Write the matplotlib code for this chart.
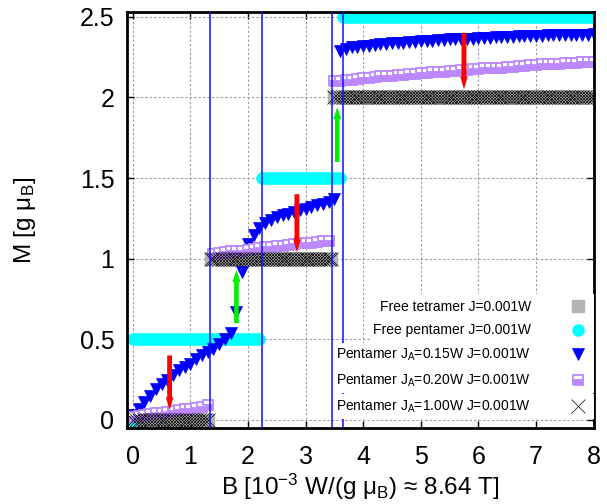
import numpy as np
import matplotlib
matplotlib.use("Agg")
import matplotlib.pyplot as plt
from matplotlib.patches import Rectangle

plt.rcParams["font.family"] = ["Liberation Sans", "DejaVu Sans"]
plt.rcParams["mathtext.fontset"] = "custom"
plt.rcParams["mathtext.rm"] = "Liberation Sans"
plt.rcParams["mathtext.it"] = "Liberation Sans:italic"
plt.rcParams["mathtext.bf"] = "Liberation Sans:bold"

# field grids, B in 10^-3 W/(g muB)
B_fine = np.round(np.arange(0, 8.001, 0.05), 2)
B_curve = np.round(np.arange(0, 8.001, 0.1), 1)

# plateau series: level between critical fields
tetra_levels = [0.0, 1.0, 2.0]
tetra_fields = [1.345, 3.46]
pent_levels = [0.5, 1.5, 2.5]
pent_fields = [2.25, 3.65]
ja100_levels = [0.0, 1.0, 2.0]
ja100_fields = [1.345, 3.46]

# pentamer JA=0.15W, B = 0.0 ... 8.0 step 0.1
M_ja015 = [0.03, 0.07, 0.11, 0.15, 0.19, 0.22, 0.25, 0.28, 0.31, 0.33,
           0.35, 0.38, 0.40, 0.42, 0.44, 0.47, 0.50, 0.54, 0.67, 0.92,
           1.09, 1.15, 1.19, 1.22, 1.24, 1.26, 1.27, 1.28, 1.29, 1.30,
           1.31, 1.32, 1.33, 1.34, 1.35, 1.37, 2.29, 2.30, 2.31, 2.31,
           2.32, 2.32, 2.325, 2.33, 2.33, 2.335, 2.34, 2.34, 2.345, 2.345,
           2.35, 2.35, 2.35, 2.355, 2.355, 2.36, 2.36, 2.36, 2.365, 2.365,
           2.37, 2.37, 2.37, 2.372, 2.375, 2.375, 2.377, 2.38, 2.38, 2.38,
           2.382, 2.384, 2.385, 2.386, 2.387, 2.388, 2.389, 2.39, 2.39, 2.39,
           2.392]

# pentamer JA=0.20W, B = 0.0 ... 8.0 step 0.1
M_ja020 = [0.02, 0.025, 0.03, 0.035, 0.04, 0.045, 0.05, 0.055, 0.06, 0.065,
           0.07, 0.075, 0.08, 0.09,
           1.03, 1.035, 1.04, 1.045, 1.05, 1.05, 1.055, 1.06, 1.065, 1.07,
           1.075, 1.08, 1.08, 1.085, 1.09, 1.095, 1.10, 1.10, 1.105, 1.11, 1.11,
           2.10, 2.105, 2.11, 2.11, 2.115, 2.12, 2.12, 2.125, 2.13, 2.13,
           2.135, 2.14, 2.14, 2.145, 2.145, 2.15, 2.15, 2.155, 2.155, 2.16,
           2.165, 2.165, 2.17, 2.17, 2.175, 2.175, 2.18, 2.18, 2.185, 2.185,
           2.19, 2.19, 2.195, 2.195, 2.20, 2.20, 2.205, 2.205, 2.21, 2.21,
           2.212, 2.214, 2.216, 2.218, 2.22, 2.22]

crit_fields = [1.345, 2.25, 3.46, 3.65]

red_x = [0.64, 2.85, 5.75]
red_from = [0.40, 1.40, 2.40]
red_to = [0.06, 1.04, 2.05]
green_x = [1.80, 3.55]
green_from = [0.60, 1.60]
green_to = [0.93, 1.94]

labels = ["Free tetramer J=0.001W",
          "Free pentamer J=0.001W",
          "Pentamer J$_{\\rm A}$=0.15W J=0.001W",
          "Pentamer J$_{\\rm A}$=0.20W J=0.001W",
          "Pentamer J$_{\\rm A}$=1.00W J=0.001W"]

x_ticks = [0, 1, 2, 3, 4, 5, 6, 7, 8]
y_ticks = [0, 0.5, 1, 1.5, 2, 2.5]
y_ticklabels = ["0", "0.5", "1", "1.5", "2", "2.5"]

assert len(M_ja015) == len(B_curve) and len(M_ja020) == len(B_curve)


def plateau(levels, fields):
    return np.asarray(levels)[np.searchsorted(fields, B_fine, side="right")]


M_tetra = plateau(tetra_levels, tetra_fields)
M_pent = plateau(pent_levels, pent_fields)
M_ja100 = plateau(ja100_levels, ja100_fields)
# free pentamer starts from M=0 at zero field
B_pent = np.concatenate([[0.0], B_fine])
M_pent = np.concatenate([[0.0], M_pent])

fig = plt.figure(figsize=(6.07, 5.04), dpi=100)
ax = fig.add_axes([0.2092, 0.1508, 0.7687, 0.8254])

ax.plot(B_fine, M_tetra, ls="none", marker="s", ms=8.5, mfc="#b4b4b4",
        mec="#b4b4b4", label=labels[0])
ax.plot(B_pent, M_pent, ls="none", marker="o", ms=8, mfc="#00ffff",
        mec="#00ffff", label=labels[1])
ax.plot(B_curve, M_ja015, ls="none", marker="v", ms=8, mfc="#0000ff",
        mec="#0000ff", mew=0.5, label=labels[2])
ax.plot(B_curve, M_ja020, ls="none", marker="s", ms=7.5, fillstyle="bottom",
        mfc="#bb88ff", markerfacecoloralt="white", mec="#bb88ff", mew=1.3,
        label=labels[3])
ax.plot(B_fine, M_ja100, ls="none", marker="x", ms=9.5, color="black",
        mew=0.5, label=labels[4])

for f in crit_fields:
    ax.axvline(f, color="#1010ff", lw=1.1, zorder=5)

for x, y0, y1 in zip(red_x, red_from, red_to):
    ax.arrow(x, y0, 0, y1 - y0, width=0.085, head_width=0.13, head_length=0.08,
             length_includes_head=True, fc="#ff0000", ec="none", zorder=6)
for x, y0, y1 in zip(green_x, green_from, green_to):
    ax.arrow(x, y0, 0, y1 - y0, width=0.08, head_width=0.14, head_length=0.075,
             length_includes_head=True, fc="#00f000", ec="none", zorder=6)

ax.set_xlim(-0.1, 8)
ax.set_ylim(-0.05, 2.53)
ax.set_xticks(x_ticks)
ax.set_yticks(y_ticks)
ax.set_yticklabels(y_ticklabels)
ax.grid(True, color="#999999", ls=(0, (2, 2)), lw=0.8)
ax.set_axisbelow(True)
ax.tick_params(direction="in", top=True, right=True, length=5, width=1,
               labelsize=18)
ax.tick_params(axis="x", pad=12)
ax.tick_params(axis="y", pad=9)
for s in ax.spines.values():
    s.set_linewidth(2)

ax.set_xlabel("B [10$^{-3}$ W/(g μ$_{\\rm B}$) ≈ 8.64 T]", fontsize=17.5, labelpad=2)
ax.set_ylabel("M [g μ$_{\\rm B}$]", fontsize=17.5, labelpad=30)

leg = ax.legend(loc="lower right", bbox_to_anchor=(0.994, 0.018), frameon=False,
                markerfirst=False, fontsize=10, handlelength=1, handletextpad=2.9,
                labelspacing=0.68, borderaxespad=0, numpoints=1)
leg.set_zorder(10)

# opaque key: white strip behind every key row, from its text to the frame
fig.canvas.draw()
renderer = fig.canvas.get_renderer()
to_axes = ax.transAxes.inverted()
row_h = 25 / (ax.bbox.height)
for t in leg.get_texts():
    bb = t.get_window_extent(renderer)
    (x0, y0), (x1, y1) = to_axes.transform([[bb.x0 - 2, bb.y0], [bb.x1, bb.y1]])
    yc = 0.5 * (y0 + y1)
    ax.add_patch(Rectangle((x0, yc - row_h / 2), 1 - x0, row_h,
                           transform=ax.transAxes, facecolor="white",
                           edgecolor="none", zorder=8))

fig.savefig("out.png", dpi=100)
